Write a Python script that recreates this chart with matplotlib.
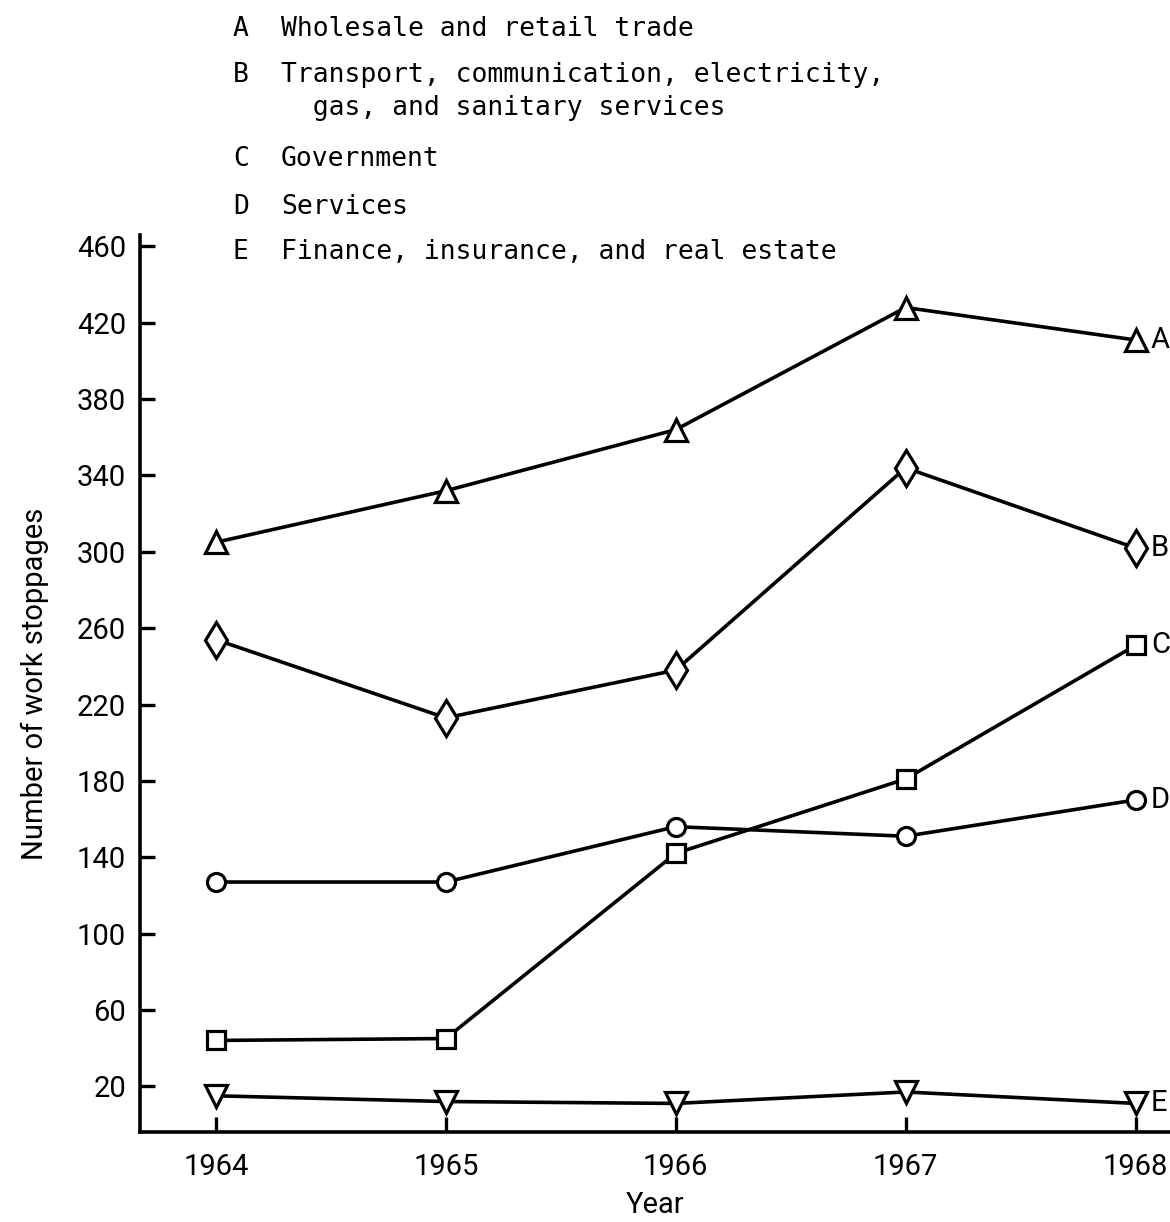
import matplotlib
matplotlib.use("Agg")
import matplotlib.pyplot as plt

# data
years = [1964, 1965, 1966, 1967, 1968]
codes = ["A", "B", "C", "D", "E"]
names = [["Wholesale and retail trade"],
         ["Transport, communication, electricity,",
          "  gas, and sanitary services"],
         ["Government"],
         ["Services"],
         ["Finance, insurance, and real estate"]]
trade = [305, 332, 364, 428, 411]
transport = [254, 213, 238, 344, 302]
government = [44, 45, 142, 181, 251]
services = [127, 127, 156, 151, 170]
finance = [15, 12, 11, 17, 11]
yticks = list(range(20, 461, 40))

series = [trade, transport, government, services, finance]
markers = [("^", 16), ("d", 18.5), ("s", 13), ("o", 13), ("v", 16)]

num_font = ["Roboto", "DejaVu Sans"]
mono_font = ["DejaVu Sans Mono"]


def main():
    fig = plt.figure(figsize=(11.7, 12.22), dpi=100)
    ax = fig.add_axes([0.1197, 0.0736, 0.8803, 0.7341])

    for vals, (m, ms), code in zip(series, markers, codes):
        ax.plot(years, vals, color="black", lw=2.6, marker=m, ms=ms,
                mfc="white", mec="black", mew=2.3, clip_on=False, zorder=3)
        ax.annotate(code, (years[-1], vals[-1]), xytext=(11, 0),
                    textcoords="offset points", va="center", ha="left",
                    fontsize=21, family=num_font, annotation_clip=False)

    ax.set_xlim(1963.67, 1968.15)
    ax.set_ylim(-4, 466)
    ax.set_xticks(years)
    ax.set_yticks(yticks)
    ax.tick_params(direction="in", length=11, width=2.4, labelsize=21,
                   pad=10)
    for lab in ax.get_xticklabels() + ax.get_yticklabels():
        lab.set_family(num_font)
    ax.tick_params(axis="x", pad=15)

    for side in ["top", "right"]:
        ax.spines[side].set_visible(False)
    for side in ["left", "bottom"]:
        ax.spines[side].set_linewidth(2.6)

    ax.set_xlabel("Year", fontsize=21, family=num_font, labelpad=7)
    ax.set_ylabel("Number of work stoppages", fontsize=21, family=num_font,
                  labelpad=20)

    # key at the top (baselines in pixels from the top)
    baselines = [36, 82, 166, 214, 259]
    for code, lines, y in zip(codes, names, baselines):
        fig.text(233 / 1170, 1 - y / 1222, code, fontsize=19,
                 family=mono_font, va="baseline", ha="left")
        for i, line in enumerate(lines):
            fig.text(281 / 1170, 1 - (y + 33 * i) / 1222, line, fontsize=19,
                     family=mono_font, va="baseline", ha="left")

    fig.savefig("out.png", dpi=100)


if __name__ == "__main__":
    main()
